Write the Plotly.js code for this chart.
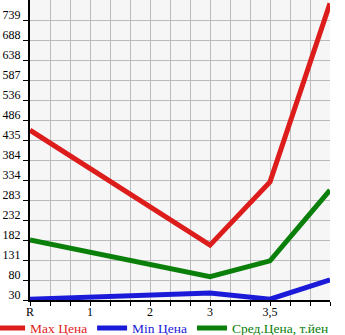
<!DOCTYPE html>
<html><head><meta charset="utf-8">
<script src="https://cdn.plot.ly/plotly-3.0.1.min.js"></script>
<style>body{margin:0;padding:0;background:#fff}#c{width:345px;height:335px}</style>
</head><body><div id="c"></div>
<script>
var xPos = [0, 3, 4, 5];
var xTickVals = [0, 1, 2, 3, 4];
var xTickText = ['R', '1', '2', '3', '3,5'];
var maxPrice = [460, 169, 329, 781];
var minPrice = [32, 48, 32, 81];
var avgPrice = [182, 89, 129, 308];
var yTickText = ['30','80','131','182','232','283','334','384','435','486','536','587','638','688','739'];
var seriesNames = ['Max Цена', 'Min Цена', 'Сред.Цена, т.йен'];
var colors = ['#dd1c1c', '#1a1ad8', '#0a800a'];

var yStep = (739 - 30) / 14;
var yTickVals = yTickText.map(function(t, i){ return 30 + i * yStep; });
var legendIds = ['legend', 'legend2', 'legend3'];
var legendX = [-0.133, 0.207, 0.54];

function tr(y, i){
  return {x: xPos, y: y, mode: 'lines', name: seriesNames[i], legend: legendIds[i],
    line: {color: colors[i], width: 5}};
}
var data = [tr(maxPrice,0), tr(minPrice,1), tr(avgPrice,2)];
var layout = {
  width: 345, height: 335,
  margin: {l: 30, r: 15, t: 0, b: 35, autoexpand: false},
  paper_bgcolor: '#ffffff', plot_bgcolor: '#f6f6f6',
  font: {family: 'Liberation Serif, serif', size: 12, color: '#000'},
  showlegend: true,
  xaxis: {range: [0, 5], tickvals: xTickVals, ticktext: xTickText,
    showgrid: true, gridcolor: '#bbbbbb', gridwidth: 1,
    minor: {dtick: 1/3, tick0: 0, showgrid: true, gridcolor: '#bbbbbb', ticks: 'outside', ticklen: 4, tickcolor: '#000'},
    ticks: 'outside', ticklen: 4, tickcolor: '#000',
    showline: true, linecolor: '#000', linewidth: 2, zeroline: false,
    ticklabelstandoff: -4,
    tickfont: {size: 12}, fixedrange: true},
  yaxis: {range: [30, 30 + 15 * yStep], tickvals: yTickVals, ticktext: yTickText,
    showgrid: true, gridcolor: '#bbbbbb', gridwidth: 1,
    ticks: 'outside', ticklen: 5, tickcolor: '#000',
    showline: true, linecolor: '#000', linewidth: 2, zeroline: false,
    ticklabelshift: -5, ticklabelstandoff: 0,
    tickfont: {size: 12}, fixedrange: true}
};
legendIds.forEach(function(id, i){
  layout[id] = {orientation: 'h', x: legendX[i], y: -0.042, xanchor: 'left', yanchor: 'top',
    font: {size: 13.5, color: colors[i]}, itemwidth: 30, bgcolor: 'rgba(0,0,0,0)'};
});
Plotly.newPlot('c', data, layout, {staticPlot: true});
</script></body></html>
